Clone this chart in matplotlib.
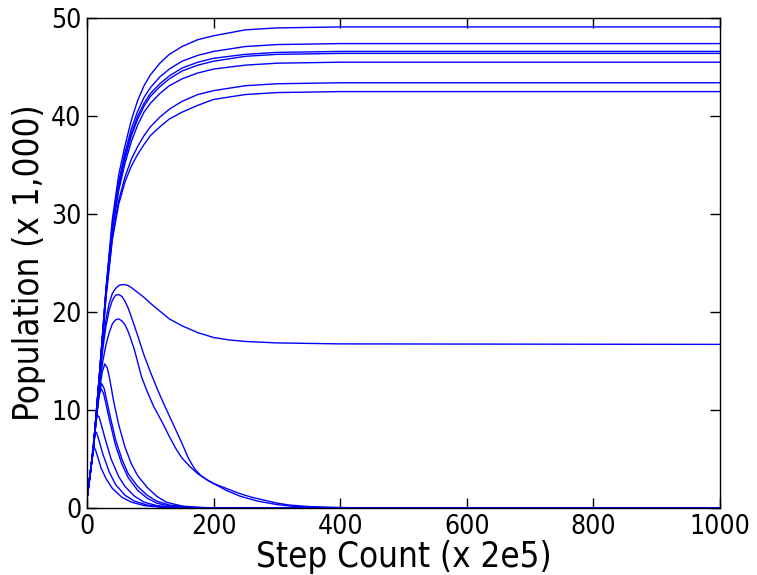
import matplotlib
matplotlib.use("Agg")
import matplotlib.pyplot as plt

# ---------------------------------------------------------------------
# Data
# ---------------------------------------------------------------------
# populations that saturate (shared step grid)
grid_x = [0, 10, 20, 30, 40, 50, 60, 70, 80, 90, 100, 115, 130, 150, 175, 200, 250, 300, 400, 600, 1000]
sat_1 = [1.0, 6.2, 14.0, 22.5, 29.5, 34.0, 37.0, 39.6, 41.6, 43.1, 44.2, 45.4, 46.3, 47.1, 47.8, 48.2, 48.8, 49.0, 49.1, 49.1, 49.1]
sat_2 = [1.0, 6.2, 14.0, 22.3, 29.0, 33.3, 36.3, 38.7, 40.5, 41.9, 42.9, 44.0, 44.8, 45.6, 46.2, 46.6, 47.1, 47.3, 47.4, 47.4, 47.4]
sat_3 = [1.0, 6.2, 13.9, 22.2, 28.8, 33.0, 35.9, 38.2, 40.0, 41.3, 42.3, 43.3, 44.1, 44.9, 45.5, 45.9, 46.3, 46.5, 46.6, 46.6, 46.6]
sat_4 = [1.0, 6.1, 13.9, 22.1, 28.6, 32.8, 35.7, 38.0, 39.7, 41.0, 42.0, 43.0, 43.8, 44.6, 45.2, 45.6, 46.1, 46.3, 46.4, 46.4, 46.4]
sat_5 = [1.0, 6.1, 13.8, 22.0, 28.3, 32.4, 35.2, 37.4, 39.1, 40.4, 41.3, 42.3, 43.1, 43.8, 44.4, 44.8, 45.2, 45.4, 45.5, 45.5, 45.5]
sat_6 = [1.0, 6.1, 13.7, 21.7, 27.7, 31.4, 33.8, 35.6, 36.9, 38.0, 38.9, 39.9, 40.7, 41.5, 42.2, 42.6, 43.1, 43.3, 43.4, 43.4, 43.4]
sat_7 = [1.0, 6.0, 13.6, 21.5, 27.4, 31.0, 33.3, 34.9, 36.1, 37.1, 38.0, 38.9, 39.7, 40.4, 41.1, 41.7, 42.2, 42.4, 42.5, 42.5, 42.5]

# population that overshoots and settles
mid_x = [0, 10, 20, 25, 30, 35, 40, 45, 50, 55, 60, 65, 70, 80, 90, 100, 115, 130, 150, 175, 200, 225, 250, 300, 400, 1000]
mid_y = [1.0, 6.1, 13.5, 16.8, 19.3, 20.9, 21.9, 22.4, 22.7, 22.8, 22.8, 22.7, 22.5, 22.0, 21.5, 20.9, 20.1, 19.3, 18.6, 17.9, 17.4, 17.15, 17.0, 16.85, 16.75, 16.7]

# populations that die out
die1_x = [0, 10, 20, 25, 30, 35, 40, 45, 50, 55, 60, 65, 70, 80, 90, 100, 110, 120, 130, 140, 150, 160, 170, 180, 190, 200,
          220, 240, 260, 280, 300, 320, 350, 400, 450, 1000]
die1_y = [1.0, 6.1, 13.3, 16.3, 18.6, 20.2, 21.2, 21.7, 21.8, 21.6, 21.1, 20.4, 19.5, 17.6, 15.6, 13.9, 12.3, 10.8, 9.4, 8.0, 6.6, 5.1, 4.0, 3.3, 2.85, 2.5,
          2.0, 1.5, 1.1, 0.8, 0.5, 0.3, 0.15, 0.05, 0.0, 0.0]
die2_x = [0, 10, 20, 25, 30, 35, 40, 45, 50, 55, 60, 65, 70, 75, 80, 86, 95, 105, 120, 130, 140, 150, 163, 175, 189, 200,
          220, 242, 270, 300, 321, 360, 400, 1000]
die2_y = [1.0, 6.0, 12.8, 15.0, 16.7, 17.9, 18.8, 19.2, 19.3, 19.1, 18.7, 18.0, 17.1, 16.1, 14.9, 13.4, 11.9, 10.4, 8.6, 7.3, 6.1, 5.1, 4.2, 3.5, 2.9, 2.5,
          1.8, 1.2, 0.7, 0.35, 0.2, 0.05, 0.0, 0.0]
die3_x = [0, 10, 15, 20, 24, 28, 32, 36, 42, 50, 60, 70, 80, 95, 110, 125, 150, 180, 220, 1000]
die3_y = [1.0, 6.0, 9.2, 12.1, 13.9, 14.7, 14.3, 13.1, 10.9, 8.5, 6.2, 4.5, 3.3, 2.1, 1.2, 0.6, 0.2, 0.05, 0.0, 0.0]
die4_x = [0, 10, 15, 19, 23, 27, 31, 36, 45, 55, 65, 80, 95, 110, 130, 160, 200, 1000]
die4_y = [1.0, 6.0, 9.4, 11.7, 12.7, 12.2, 11.0, 9.5, 7.0, 5.0, 3.5, 2.2, 1.3, 0.7, 0.3, 0.1, 0.0, 0.0]
die5_x = [0, 10, 14, 18, 22, 26, 30, 35, 45, 55, 65, 80, 95, 110, 130, 160, 200, 1000]
die5_y = [1.0, 6.0, 8.8, 11.1, 12.2, 11.7, 10.6, 9.1, 6.4, 4.5, 3.1, 1.8, 1.0, 0.5, 0.2, 0.05, 0.0, 0.0]
die6_x = [0, 5, 10, 13, 16, 19, 23, 28, 38, 50, 60, 75, 90, 110, 140, 200, 1000]
die6_y = [1.0, 3.3, 6.3, 8.4, 9.5, 9.3, 8.4, 7.2, 5.0, 3.2, 2.2, 1.2, 0.6, 0.25, 0.05, 0.0, 0.0]
die7_x = [0, 5, 9, 11, 13, 15, 18, 25, 35, 45, 60, 75, 95, 120, 200, 1000]
die7_y = [1.0, 3.5, 6.0, 7.2, 7.8, 7.7, 7.1, 5.5, 3.7, 2.4, 1.3, 0.7, 0.3, 0.1, 0.0, 0.0]
die8_x = [0, 4, 7, 9, 11, 13, 16, 22, 30, 40, 55, 70, 90, 120, 200, 1000]
die8_y = [1.0, 2.9, 4.6, 5.6, 6.1, 6.0, 5.4, 4.1, 3.0, 2.0, 1.1, 0.6, 0.25, 0.05, 0.0, 0.0]

x_ticks = [0, 200, 400, 600, 800, 1000]
y_ticks = [0, 10, 20, 30, 40, 50]


def main():
    plt.rcParams["font.family"] = ["DejaVu Sans"]
    plt.rcParams["font.stretch"] = "condensed"

    fig = plt.figure(figsize=(7.57, 5.75), dpi=100)
    ax = fig.add_axes([0.115, 0.1165, 0.836, 0.852])

    for ys in [sat_1, sat_2, sat_3, sat_4, sat_5, sat_6, sat_7]:
        ax.plot(grid_x, ys, color="blue", lw=1.0)
    ax.plot(mid_x, mid_y, color="blue", lw=1.0)
    for xs, ys in [(die1_x, die1_y), (die2_x, die2_y), (die3_x, die3_y),
                   (die4_x, die4_y), (die5_x, die5_y), (die6_x, die6_y),
                   (die7_x, die7_y), (die8_x, die8_y)]:
        ax.plot(xs, ys, color="blue", lw=1.0)

    ax.set_xlim(0, 1000)
    ax.set_ylim(0, 50)
    ax.set_xticks(x_ticks)
    ax.set_yticks(y_ticks)
    ax.tick_params(direction="in", length=7, width=1, top=True, right=True,
                   labelsize=19, pad=4)
    for sp in ax.spines.values():
        sp.set_linewidth(1.0)

    ax.set_xlabel("Step Count (x 2e5)", fontsize=25, labelpad=0)
    ax.set_ylabel("Population (x 1,000)", fontsize=25, labelpad=4)

    fig.savefig("out.png", dpi=100)


if __name__ == "__main__":
    main()
